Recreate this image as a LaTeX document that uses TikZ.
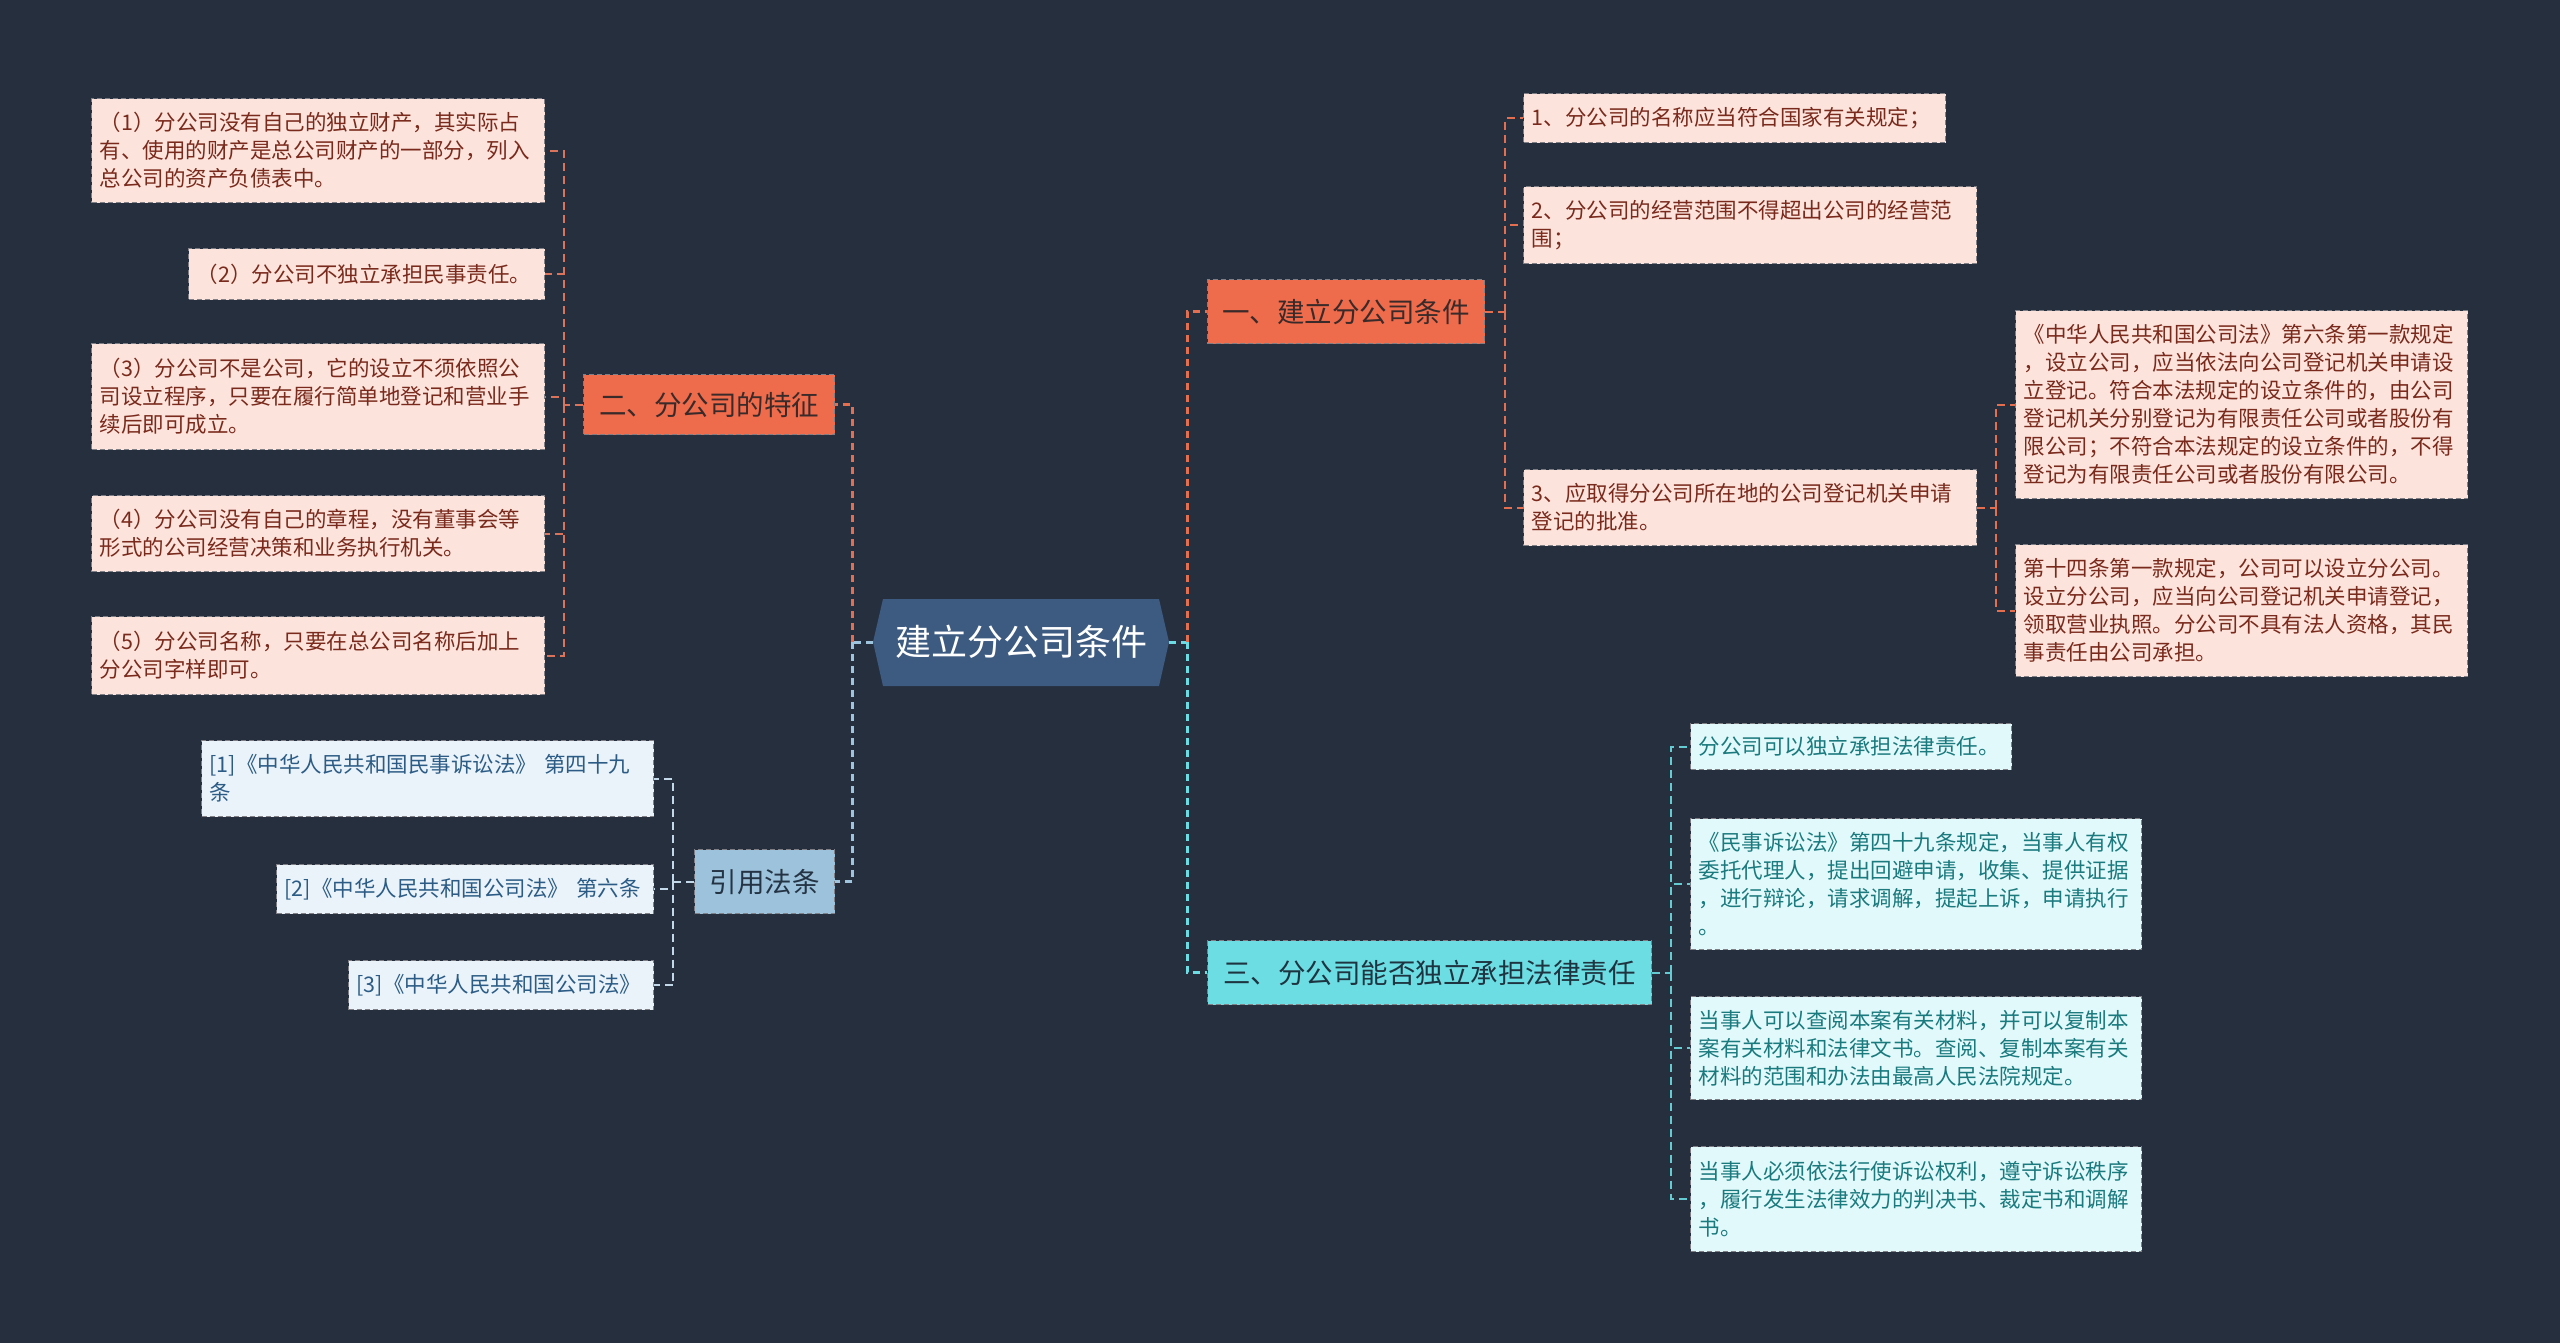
\documentclass[tikz,border=0pt]{standalone}
\usepackage{fontspec}
\newfontfamily\cjk{Noto Sans CJK SC}
\usetikzlibrary{calc}
\definecolor{bg}{HTML}{262F3E}
\definecolor{mainfill}{HTML}{3D5A80}
\definecolor{ofill}{HTML}{EE6B4C}
\definecolor{otext}{HTML}{3A2A2A}
\definecolor{cfillb}{HTML}{6CDDE3}
\definecolor{ctextb}{HTML}{1E3440}
\definecolor{bfill}{HTML}{9DC2DB}
\definecolor{btext}{HTML}{253445}
\definecolor{pfill}{HTML}{FCE4DD}
\definecolor{ptext}{HTML}{7A2A1C}
\definecolor{ffill}{HTML}{EAF3FA}
\definecolor{ftext}{HTML}{2C5C85}
\definecolor{cfill}{HTML}{E1F9FA}
\definecolor{ctext}{HTML}{1A7A7E}
\definecolor{bord}{HTML}{7F7F85}
\definecolor{oline}{HTML}{E46E50}
\definecolor{pline}{HTML}{D9735B}
\definecolor{bline}{HTML}{9EC4DE}
\definecolor{cline}{HTML}{6BDCE2}
\definecolor{fline}{HTML}{C3D8E8}
\definecolor{ccline}{HTML}{64CBD2}
\tikzset{
  leaf/.style={draw=bord, dash pattern=on 5pt off 3pt, line width=1.3pt,
    inner xsep=8pt, inner ysep=0pt, align=left, anchor=north west,
    font=\cjk\fontsize{21.5}{28}\selectfont},
  pbox/.style={leaf, fill=pfill, text=ptext},
  fbox/.style={leaf, fill=ffill, text=ftext},
  cbox/.style={leaf, fill=cfill, text=ctext},
  branch/.style={draw=bord, dash pattern=on 5pt off 3pt, line width=1.3pt,
    inner sep=0pt, anchor=north west, align=center,
    font=\cjk\fontsize{27.5}{32}\selectfont},
  mainconn/.style={line width=3pt, dash pattern=on 7pt off 5pt},
  leafconn/.style={line width=2pt, dash pattern=on 8pt off 5pt},
}
\begin{document}
\begin{tikzpicture}[x=1pt,y=-1pt]
\useasboundingbox (0,0) rectangle (2560,1343);
\fill[bg] (0,0) rectangle (2560,1343);

% central hexagon
\fill[mainfill] (883,599) -- (1159,599) -- (1169,642) -- (1159,686) -- (883,686) -- (873,642) -- cycle;
\node[inner sep=0pt, minimum width=296pt, minimum height=87pt, text=white,
  font=\cjk\fontsize{36}{40}\selectfont] (main) at (1021,642) {建立分公司条件};

% branches
\node[branch, fill=ofill, text=otext, minimum width=251pt, minimum height=60pt] (b2) at (583,374) {二、分公司的特征};
\node[branch, fill=bfill, text=btext, minimum width=140pt, minimum height=64pt] (bref) at (694,849) {引用法条};
\node[branch, fill=ofill, text=otext, minimum width=277pt, minimum height=64pt] (b1) at (1207,279) {一、建立分公司条件};
\node[branch, fill=cfillb, text=ctextb, minimum width=444pt, minimum height=64pt] (b3) at (1207,940) {三、分公司能否独立承担法律责任};

% left leaves
\node[pbox, text width=437pt, minimum height=104pt] (l1) at (91,98) {（1）分公司没有自己的独立财产，其实际占\\有、使用的财产是总公司财产的一部分，列入\\总公司的资产负债表中。};
\node[pbox, text width=340pt, minimum height=51pt] (l2) at (188,248) {（2）分公司不独立承担民事责任。};
\node[pbox, text width=437pt, minimum height=106pt] (l3) at (91,343) {（3）分公司不是公司，它的设立不须依照公\\司设立程序，只要在履行简单地登记和营业手\\续后即可成立。};
\node[pbox, text width=437pt, minimum height=76pt] (l4) at (91,495) {（4）分公司没有自己的章程，没有董事会等\\形式的公司经营决策和业务执行机关。};
\node[pbox, text width=437pt, minimum height=78pt] (l5) at (91,616) {（5）分公司名称，只要在总公司名称后加上\\分公司字样即可。};

% references
\node[fbox, text width=436pt, minimum height=76pt] (f1) at (201,740) {[1]《中华人民共和国民事诉讼法》 第四十九\\条};
\node[fbox, text width=361pt, minimum height=49pt] (f2) at (276,864) {[2]《中华人民共和国公司法》 第六条};
\node[fbox, text width=289pt, minimum height=49pt] (f3) at (348,960) {[3]《中华人民共和国公司法》};

% right top leaves
\node[pbox, text width=406pt, minimum height=49pt] (r1) at (1523,93) {1、分公司的名称应当符合国家有关规定；};
\node[pbox, text width=437pt, minimum height=77pt] (r2) at (1523,186) {2、分公司的经营范围不得超出公司的经营范\\围；};
\node[pbox, text width=437pt, minimum height=76pt] (r3) at (1523,469) {3、应取得分公司所在地的公司登记机关申请\\登记的批准。};
\node[pbox, text width=436pt, minimum height=188pt] (ra) at (2015,310) {《中华人民共和国公司法》第六条第一款规定\\，设立公司，应当依法向公司登记机关申请设\\立登记。符合本法规定的设立条件的，由公司\\登记机关分别登记为有限责任公司或者股份有\\限公司；不符合本法规定的设立条件的，不得\\登记为有限责任公司或者股份有限公司。};
\node[pbox, text width=436pt, minimum height=132pt] (rb) at (2015,544) {第十四条第一款规定，公司可以设立分公司。\\设立分公司，应当向公司登记机关申请登记，\\领取营业执照。分公司不具有法人资格，其民\\事责任由公司承担。};

% right bottom leaves
\node[cbox, text width=305pt, minimum height=46pt] (c1) at (1690,723) {分公司可以独立承担法律责任。};
\node[cbox, text width=435pt, minimum height=131pt] (c2) at (1690,818) {《民事诉讼法》第四十九条规定，当事人有权\\委托代理人，提出回避申请，收集、提供证据\\，进行辩论，请求调解，提起上诉，申请执行\\。};
\node[cbox, text width=435pt, minimum height=103pt] (c3) at (1690,996) {当事人可以查阅本案有关材料，并可以复制本\\案有关材料和法律文书。查阅、复制本案有关\\材料的范围和办法由最高人民法院规定。};
\node[cbox, text width=435pt, minimum height=105pt] (c4) at (1690,1146) {当事人必须依法行使诉讼权利，遵守诉讼秩序\\，履行发生法律效力的判决书、裁定书和调解\\书。};

% junctions
\coordinate (jm) at ([xshift=-20pt]main.west);
\coordinate (jr) at ([xshift=18pt]main.east);
\coordinate (jl) at ([xshift=-19pt]b2.west);
\coordinate (jf) at ([xshift=-21pt]bref.west);
\coordinate (j1) at ([xshift=20pt]b1.east);
\coordinate (j3) at ([xshift=19pt]r3.east);
\coordinate (jc) at ([xshift=19pt]b3.east);

% main connectors
\draw[mainconn, bline] (main.west) -- (jm);
\draw[mainconn, oline] (jm) |- (b2.east);
\draw[mainconn, bline] (jm) |- (bref.east);
\draw[mainconn, cline] (main.east) -- (jr);
\draw[mainconn, oline] (jr) |- (b1.west);
\draw[mainconn, cline] (jr) |- (b3.west);

% leaf connectors
\draw[leafconn, pline] (b2.west) -- (jl);
\foreach \n in {l1,l2,l3,l4,l5} \draw[leafconn, pline] (jl) |- (\n.east);
\draw[leafconn, fline] (bref.west) -- (jf);
\foreach \n in {f1,f2,f3} \draw[leafconn, fline] (jf) |- (\n.east);
\draw[leafconn, oline] (b1.east) -- (j1);
\foreach \n in {r1,r2,r3} \draw[leafconn, oline] (j1) |- (\n.west);
\draw[leafconn, oline] (r3.east) -- (j3);
\foreach \n in {ra,rb} \draw[leafconn, oline] (j3) |- (\n.west);
\draw[leafconn, ccline] (b3.east) -- (jc);
\foreach \n in {c1,c2,c3,c4} \draw[leafconn, ccline] (jc) |- (\n.west);
\end{tikzpicture}
\end{document}
